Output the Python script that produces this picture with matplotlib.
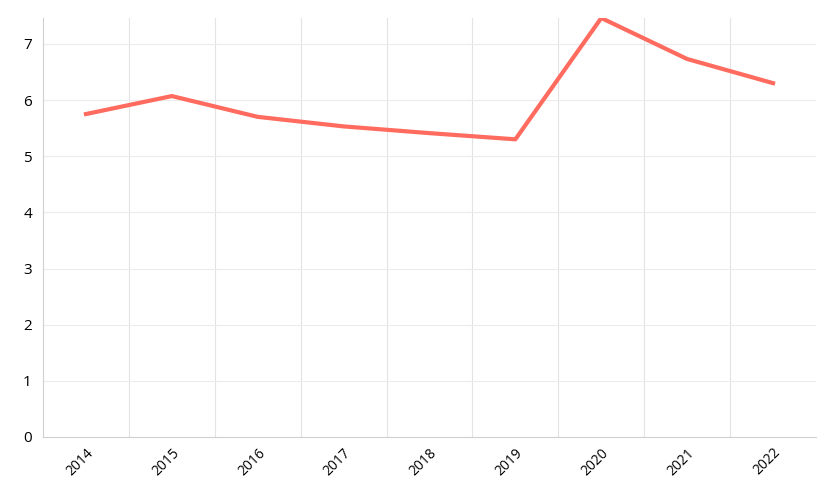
import matplotlib
matplotlib.use("Agg")
import matplotlib.pyplot as plt

years = ["2014", "2015", "2016", "2017", "2018", "2019", "2020", "2021", "2022"]
values = [5.75, 6.07, 5.70, 5.53, 5.41, 5.30, 7.46, 6.73, 6.30]

plt.rcParams['font.family'] = ['Open Sans', 'DejaVu Sans']
fig = plt.figure(figsize=(8.36, 5.0), dpi=100)
ax = fig.add_axes([43/836, 63/500, (816-43)/836, (482-63)/500])
x = list(range(len(years)))
ax.plot(x, values, color="#FF6B5E", linewidth=3, solid_joinstyle="round", zorder=3)
ax.set_xlim(-0.5, len(years) - 0.5)
ax.set_ylim(0, 7.46)
ax.set_yticks(range(0, 8))
ax.set_xticks(x)
ax.set_xticklabels(years, rotation=45, ha="right", rotation_mode="anchor", fontsize=10)
ax.tick_params(axis="y", labelsize=11, length=0, pad=8)
ax.tick_params(axis="x", length=0, pad=6)
for i in range(1, len(years)):
    ax.axvline(i - 0.5, color="#e3e3e3", linewidth=0.8, zorder=1)
for yv in range(1, 8):
    ax.axhline(yv, color="#ececec", linewidth=0.8, zorder=1)
for s in ["top", "right"]:
    ax.spines[s].set_visible(False)
ax.spines["left"].set_color("#d0d0d0")
ax.spines["bottom"].set_color("#d0d0d0")
fig.savefig("out.png", dpi=100)
